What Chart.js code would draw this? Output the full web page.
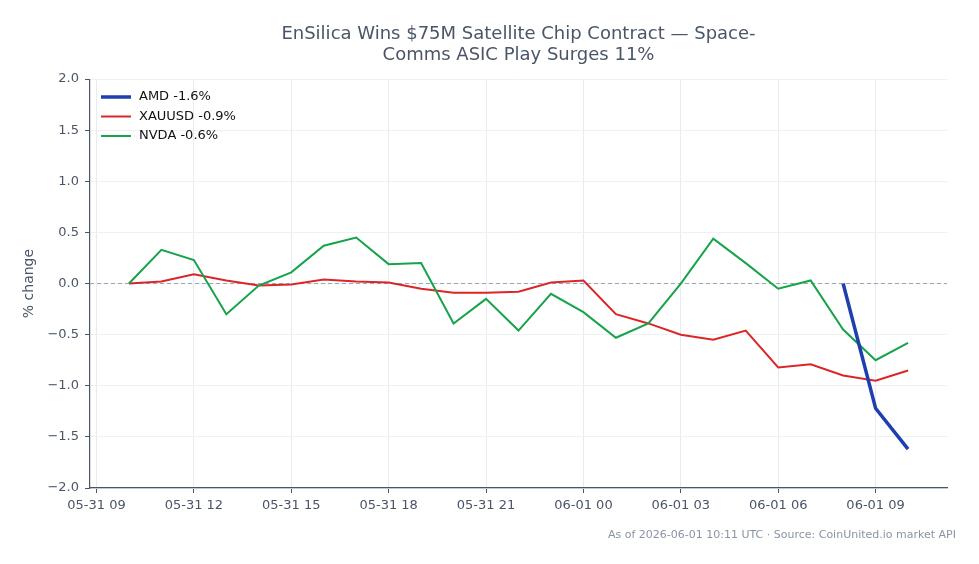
<!DOCTYPE html>
<html>
<head>
    <title>EnSilica chart</title>
    <script src="https://cdn.jsdelivr.net/npm/chart.js"></script>
    <style>
        html, body { margin: 0; padding: 0; background: #fff; }
        #wrap { width: 979px; height: 564px; }
    </style>
</head>
<body>
    <div id="wrap"><canvas id="pctChart" width="979" height="564"></canvas></div>

    <script>
        // hours since 05-31 09:00 (hourly samples 05-31 10 .. 06-01 10)
        const hours = [1, 2, 3, 4, 5, 6, 7, 8, 9, 10, 11, 12, 13, 14, 15, 16, 17, 18, 19, 20, 21, 22, 23, 24, 25];

        const amdPct = [null, null, null, null, null, null, null, null, null, null, null, null,
                        null, null, null, null, null, null, null, null, null, null, 0.0, -1.22, -1.62];
        const xauPct = [0.0, 0.02, 0.09, 0.03, -0.02, -0.01, 0.04, 0.02, 0.01, -0.05, -0.09, -0.09, -0.08,
                        0.01, 0.03, -0.30, -0.39, -0.50, -0.55, -0.46, -0.82, -0.79, -0.90, -0.95, -0.85];
        const nvdaPct = [0.0, 0.33, 0.23, -0.30, -0.02, 0.11, 0.37, 0.45, 0.19, 0.20, -0.39, -0.15, -0.46,
                         -0.10, -0.28, -0.53, -0.39, 0.0, 0.44, 0.20, -0.05, 0.03, -0.45, -0.75, -0.58];

        const seriesLabels = ['AMD -1.6%', 'XAUUSD -0.9%', 'NVDA -0.6%'];
        const tickHours = [0, 3, 6, 9, 12, 15, 18, 21, 24];
        const tickLabels = ['05-31 09', '05-31 12', '05-31 15', '05-31 18', '05-31 21',
                            '06-01 00', '06-01 03', '06-01 06', '06-01 09'];

        const FONT = "'DejaVu Sans', sans-serif";
        const TEXT = '#4a5568';

        function toPoints(vals) {
            return hours.map((h, i) => ({ x: h, y: vals[i] }));
        }

        // dashed zero line, in-plot legend and the source note
        const extras = {
            id: 'extras',
            beforeDatasetsDraw(chart) {
                const ctx = chart.ctx;
                const area = chart.chartArea;
                const y0 = chart.scales.y.getPixelForValue(0);
                ctx.save();
                ctx.strokeStyle = '#94a3b8';
                ctx.lineWidth = 1;
                ctx.setLineDash([4, 3]);
                ctx.beginPath();
                ctx.moveTo(area.left, y0);
                ctx.lineTo(area.right, y0);
                ctx.stroke();
                ctx.restore();
            },
            afterDraw(chart) {
                const ctx = chart.ctx;
                ctx.save();
                ctx.font = '13px ' + FONT;
                ctx.textBaseline = 'middle';
                chart.data.datasets.forEach((ds, i) => {
                    const y = 97 + i * 19.5;
                    ctx.strokeStyle = ds.borderColor;
                    ctx.lineWidth = ds.borderWidth;
                    ctx.beginPath();
                    ctx.moveTo(101, y);
                    ctx.lineTo(131, y);
                    ctx.stroke();
                    ctx.fillStyle = '#111';
                    ctx.fillText(ds.label, 139, y);
                });
                ctx.font = '11px ' + FONT;
                ctx.fillStyle = '#8a94a6';
                ctx.textAlign = 'right';
                ctx.fillText('As of 2026-06-01 10:11 UTC \u00b7 Source: CoinUnited.io market API', 956, 535);
                ctx.restore();
            }
        };

        new Chart(document.getElementById('pctChart'), {
            type: 'line',
            data: {
                datasets: [
                    { label: seriesLabels[0], data: toPoints(amdPct), borderColor: '#1e40af', borderWidth: 3.5, order: 0 },
                    { label: seriesLabels[1], data: toPoints(xauPct), borderColor: '#dc2626', borderWidth: 2, order: 2 },
                    { label: seriesLabels[2], data: toPoints(nvdaPct), borderColor: '#16a34a', borderWidth: 2, order: 1 }
                ]
            },
            options: {
                responsive: false,
                animation: false,
                spanGaps: false,
                elements: { point: { radius: 0 }, line: { tension: 0 } },
                layout: { padding: { left: 1, right: 32, top: 14, bottom: 0 } },
                plugins: {
                    legend: { display: false },
                    tooltip: { enabled: false },
                    title: {
                        display: true,
                        fullSize: false,
                        text: ['EnSilica Wins $75M Satellite Chip Contract \u2014 Space-', 'Comms ASIC Play Surges 11%'],
                        color: TEXT,
                        font: { family: FONT, size: 18, weight: 'normal', lineHeight: 1.17 },
                        padding: { top: 10, bottom: 13 }
                    }
                },
                scales: {
                    x: {
                        type: 'linear',
                        min: -0.2,
                        max: 26.2,
                        afterBuildTicks: (scale) => { scale.ticks = tickHours.map(v => ({ value: v })); },
                        afterFit: (scale) => { scale.height = 76; },
                        ticks: {
                            autoSkip: false,
                            maxRotation: 0,
                            color: TEXT,
                            font: { family: FONT, size: 13 },
                            padding: 5,
                            callback: (v) => tickLabels[tickHours.indexOf(v)]
                        },
                        grid: { color: '#e8ebf0', tickColor: TEXT, tickLength: 5 },
                        border: { color: TEXT, width: 1.2 }
                    },
                    y: {
                        min: -2,
                        max: 2,
                        afterFit: (scale) => { scale.width = 89; },
                        ticks: {
                            stepSize: 0.5,
                            color: TEXT,
                            font: { family: FONT, size: 13 },
                            padding: 6,
                            callback: (v) => (v < 0 ? '\u2212' : '') + Math.abs(v).toFixed(1)
                        },
                        grid: { color: '#eef0f4', tickColor: TEXT, tickLength: 5 },
                        border: { color: TEXT, width: 1.2 },
                        title: {
                            display: true,
                            text: '% change',
                            color: TEXT,
                            font: { family: FONT, size: 14 },
                            padding: { top: 20, bottom: 0 }
                        }
                    }
                }
            },
            plugins: [extras]
        });
    </script>
</body>
</html>
